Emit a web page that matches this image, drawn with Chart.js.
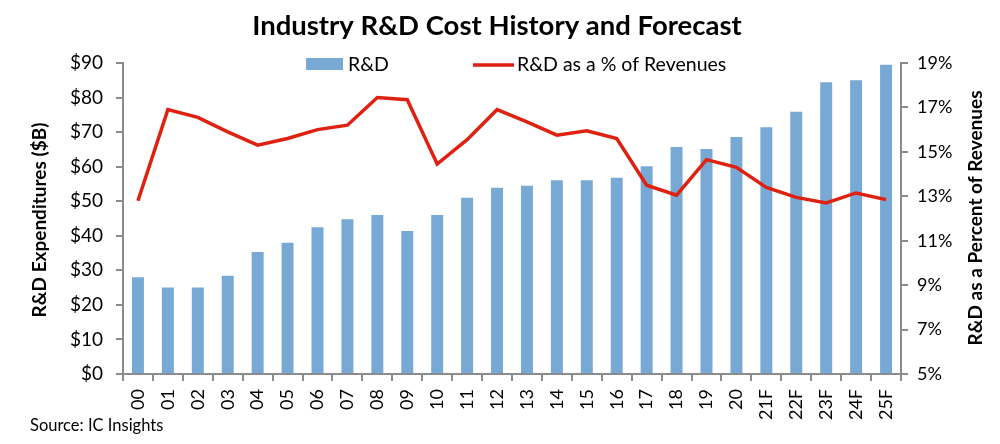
<!DOCTYPE html>
<html lang="en">
<head>
<meta charset="UTF-8">
<title>Industry R&D Cost History and Forecast</title>
<script src="https://cdn.jsdelivr.net/npm/chart.js"></script>
<style>
  html, body { margin: 0; padding: 0; background: #fff; }
  #wrap { width: 1000px; height: 444px; position: relative; }
</style>
</head>
<body>
<div id="wrap"><canvas id="chart" width="1000" height="444"></canvas></div>
<script>
// data
const years = ['00','01','02','03','04','05','06','07','08','09','10','11','12',
               '13','14','15','16','17','18','19','20','21F','22F','23F','24F','25F'];
const rdSpend = [28, 25, 25, 28.4, 35.3, 38, 42.5, 44.8, 46, 41.4, 46, 51, 53.9,
                 54.5, 56.1, 56.1, 56.8, 60.1, 65.7, 65.1, 68.6, 71.4, 75.9, 84.4, 85, 89.5];
const rdPctRevenue = [12.8, 16.9, 16.55, 15.9, 15.3, 15.6, 16.0, 16.2, 17.45, 17.35, 14.45, 15.55, 16.9,
                      16.35, 15.75, 15.95, 15.6, 13.5, 13.05, 14.65, 14.3, 13.4, 12.95, 12.7, 13.15, 12.85];
const leftTicks = [0, 10, 20, 30, 40, 50, 60, 70, 80, 90];
const rightTicks = [5, 7, 9, 11, 13, 15, 17, 19];

const barColor = '#78A9D5';
const lineColor = '#DE2110';
const axisColor = '#8c8c8c';
const font = 'Lato, "Open Sans", sans-serif';

// titles, legend and source note
const decorations = {
  id: 'decorations',
  afterDraw(chart) {
    const ctx = chart.ctx;
    ctx.save();
    ctx.fillStyle = '#000';
    ctx.textBaseline = 'middle';

    ctx.font = 'bold 27.5px ' + font;
    ctx.textAlign = 'center';
    ctx.fillText('Industry R&D Cost History and Forecast', 497, 26);

    ctx.font = 'bold 19px ' + font;
    ctx.save();
    ctx.translate(40, 220);
    ctx.rotate(-Math.PI / 2);
    ctx.fillText('R&D Expenditures ($B)', 0, 0);
    ctx.restore();
    ctx.save();
    ctx.translate(976, 218);
    ctx.rotate(-Math.PI / 2);
    ctx.fillText('R&D as a Percent of Revenues', 0, 0);
    ctx.restore();

    // legend
    ctx.font = '19.5px ' + font;
    ctx.textAlign = 'left';
    ctx.fillStyle = barColor;
    ctx.fillRect(306, 58, 37, 12);
    ctx.fillStyle = '#000';
    ctx.fillText('R&D', 348, 65);
    ctx.strokeStyle = lineColor;
    ctx.lineWidth = 3.5;
    ctx.beginPath();
    ctx.moveTo(473, 65);
    ctx.lineTo(514, 65);
    ctx.stroke();
    ctx.fillText('R&D as a % of Revenues', 517, 65);

    ctx.font = '16.5px ' + font;
    ctx.fillText('Source: IC Insights', 30, 426);
    ctx.restore();
  }
};

new Chart(document.getElementById('chart'), {
  type: 'bar',
  data: {
    labels: years,
    datasets: [
      {
        type: 'line',
        label: 'R&D as a % of Revenues',
        data: rdPctRevenue,
        yAxisID: 'yPct',
        borderColor: lineColor,
        borderWidth: 3.5,
        pointRadius: 0,
        tension: 0,
        order: 0
      },
      {
        type: 'bar',
        label: 'R&D',
        data: rdSpend,
        yAxisID: 'ySpend',
        backgroundColor: barColor,
        barPercentage: 0.8,
        categoryPercentage: 0.5,
        order: 1
      }
    ]
  },
  options: {
    responsive: false,
    animation: false,
    layout: { padding: { top: 63, left: 0, right: 0, bottom: 0 } },
    plugins: { legend: { display: false }, tooltip: { enabled: false } },
    scales: {
      x: {
        offset: true,
        afterFit(scale) { scale.height = 70; },
        border: { color: axisColor, width: 2 },
        grid: { offset: true, drawOnChartArea: false, color: axisColor, lineWidth: 2, tickLength: 7 },
        ticks: { color: '#000', font: { family: font, size: 18 }, minRotation: 90, maxRotation: 90, padding: 8, autoSkip: false }
      },
      ySpend: {
        position: 'left',
        min: 0, max: 90,
        afterFit(scale) { scale.width = 123; },
        afterBuildTicks(scale) { scale.ticks = leftTicks.map(v => ({ value: v })); },
        border: { color: axisColor, width: 2 },
        grid: { drawOnChartArea: false, color: axisColor, lineWidth: 2, tickLength: 7 },
        ticks: { color: '#000', font: { family: font, size: 19 }, padding: 13, callback: v => '$' + v }
      },
      yPct: {
        position: 'right',
        min: 5, max: 19,
        afterFit(scale) { scale.width = 99; },
        afterBuildTicks(scale) { scale.ticks = rightTicks.map(v => ({ value: v })); },
        border: { color: axisColor, width: 2 },
        grid: { drawOnChartArea: false, color: axisColor, lineWidth: 2, tickLength: 7 },
        ticks: { color: '#000', font: { family: font, size: 18 }, padding: 9, callback: v => v + '%' }
      }
    }
  },
  plugins: [decorations]
});
</script>
</body>
</html>
